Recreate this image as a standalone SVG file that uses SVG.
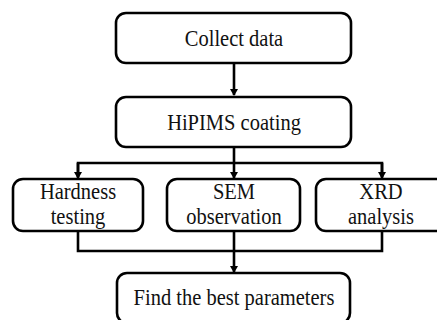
<svg xmlns="http://www.w3.org/2000/svg" width="437" height="320" viewBox="0 0 437 320">
<style>
.box{fill:#fff;stroke:#000;stroke-width:2.6}
.t{font-family:"Liberation Serif","Times New Roman",serif;font-size:20.5px;fill:#111;text-anchor:middle}
.c{fill:none;stroke:#000;stroke-width:2.6}
</style>
<defs>
<marker id="ah" markerWidth="8" markerHeight="8" refX="6" refY="4" orient="auto" markerUnits="userSpaceOnUse">
<path d="M0,0 L7,4 L0,8 Z" fill="#000"/>
</marker>
</defs>
<rect width="437" height="320" fill="#fff"/>
<g id="connectors">
<line class="c" x1="234" y1="63" x2="234" y2="95" marker-end="url(#ah)"/>
<line class="c" x1="234" y1="147" x2="234" y2="163"/>
<polyline class="c" points="78,177 78,163 382,163 382,177"/>
<line class="c" x1="78" y1="163" x2="78" y2="178" marker-end="url(#ah)"/>
<line class="c" x1="234" y1="163" x2="234" y2="178" marker-end="url(#ah)"/>
<line class="c" x1="382" y1="163" x2="382" y2="178" marker-end="url(#ah)"/>
<polyline class="c" points="78,231 78,251 382,251 382,231"/>
<line class="c" x1="234" y1="231" x2="234" y2="272" marker-end="url(#ah)"/>
</g>
<g id="collect">
<rect class="box" x="116" y="13" width="235" height="50" rx="10"/>
<text class="t" transform="translate(234,46) scale(1,1.15)">Collect data</text>
</g>
<g id="hipims">
<rect class="box" x="116" y="97" width="235" height="50" rx="10"/>
<text class="t" transform="translate(234,130) scale(1,1.15)">HiPIMS coating</text>
</g>
<g id="hardness">
<rect class="box" x="13" y="179" width="130" height="52" rx="10"/>
<text class="t" transform="translate(78,199) scale(1,1.15)">Hardness</text>
<text class="t" transform="translate(78,224) scale(1,1.15)">testing</text>
</g>
<g id="sem">
<rect class="box" x="167" y="179" width="133" height="52" rx="10"/>
<text class="t" transform="translate(234,199) scale(1,1.15)">SEM</text>
<text class="t" transform="translate(234,224) scale(1,1.15)">observation</text>
</g>
<g id="xrd">
<rect class="box" x="316" y="179" width="132" height="52" rx="10"/>
<text class="t" transform="translate(381,199) scale(1,1.15)">XRD</text>
<text class="t" transform="translate(381,224) scale(1,1.15)">analysis</text>
</g>
<g id="find">
<rect class="box" x="117" y="273" width="233" height="50" rx="10"/>
<text class="t" transform="translate(234,305) scale(1,1.15)">Find the best parameters</text>
</g>
</svg>
